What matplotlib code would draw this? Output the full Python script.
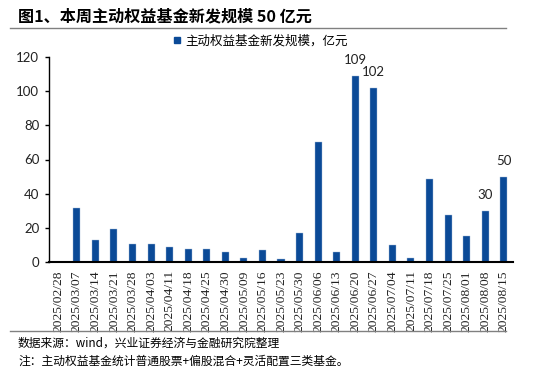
import matplotlib
matplotlib.use("Agg")
import matplotlib.pyplot as plt
from matplotlib.lines import Line2D

plt.rcParams['font.family'] = ['Noto Sans CJK SC', 'DejaVu Sans']

dates = ["2025/02/28", "2025/03/07", "2025/03/14", "2025/03/21", "2025/03/28",
         "2025/04/03", "2025/04/11", "2025/04/18", "2025/04/25", "2025/04/30",
         "2025/05/09", "2025/05/16", "2025/05/23", "2025/05/30", "2025/06/06",
         "2025/06/13", "2025/06/20", "2025/06/27", "2025/07/04", "2025/07/11",
         "2025/07/18", "2025/07/25", "2025/08/01", "2025/08/08", "2025/08/15"]
values = [0, 31.5, 13, 19.5, 10.3, 10.6, 8.5, 7.7, 7.9, 5.8,
          2.1, 7.2, 2.0, 17, 70, 5.8, 109, 102, 9.7, 2.3,
          48.7, 27.5, 15.5, 30, 50]
labeled = {"2025/06/20": "109", "2025/06/27": "102", "2025/08/08": "30", "2025/08/15": "50"}
yticks = [0, 20, 40, 60, 80, 100, 120]

color = "#0B4A97"
serif = "Liberation Serif"
sans = "Lato"

fig = plt.figure(figsize=(5.5, 3.79), dpi=100)
ax = fig.add_axes([49/550, 1-262/379, (513-49)/550, (262-57)/379])

x = list(range(len(dates)))
ax.bar(x, values, width=0.38, color=color, edgecolor="#9fb8d8", linewidth=0.3)
for i, d in enumerate(dates):
    if d in labeled:
        ax.text(i, values[i] + 5.5, labeled[d], ha='center', va='bottom',
                fontsize=9.5, family=sans, color="#222222")

ax.set_xlim(-0.5, len(dates) - 0.5)
ax.set_ylim(0, 120)
ax.set_yticks(yticks)
ax.set_yticklabels([str(v) for v in yticks], family=sans, fontsize=9.5, color="#222222")
ax.set_xticks(x)
ax.set_xticklabels(dates, rotation=90, family=serif, fontsize=9.7, color="#222222")
ax.tick_params(axis='x', length=0, pad=6)
ax.tick_params(axis='y', direction='out', length=3, width=1, pad=4)
for s in ['top', 'right']:
    ax.spines[s].set_visible(False)
ax.spines['left'].set_linewidth(1.0)
ax.spines['bottom'].set_linewidth(1.5)

# legend
handle = Line2D([], [], marker='s', linestyle='none', color=color, markersize=5)
leg = fig.legend([handle], ["主动权益基金新发规模，亿元"], loc='center',
                 bbox_to_anchor=(260/550, 1-41/379), frameon=False,
                 fontsize=9, handletextpad=0.3, handlelength=0.8)

# title and lines
fig.text(18/550, 1-16/379, "图1、本周主动权益基金新发规模 50 亿元", fontsize=11.6,
         fontweight='bold', va='center', ha='left')
fig.add_artist(Line2D([10/550, 506/550], [1-28/379, 1-28/379], color="#808080", linewidth=1))
fig.add_artist(Line2D([10/550, 506/550], [1-331/379, 1-331/379], color="#808080", linewidth=1))
fig.text(18/550, 1-343/379, "数据来源：wind，兴业证券经济与金融研究院整理", fontsize=8.5,
         va='center', ha='left')
fig.text(18/550, 1-361/379, "注：主动权益基金统计普通股票+偏股混合+灵活配置三类基金。", fontsize=8.5,
         va='center', ha='left')

fig.savefig("out.png", dpi=100)
